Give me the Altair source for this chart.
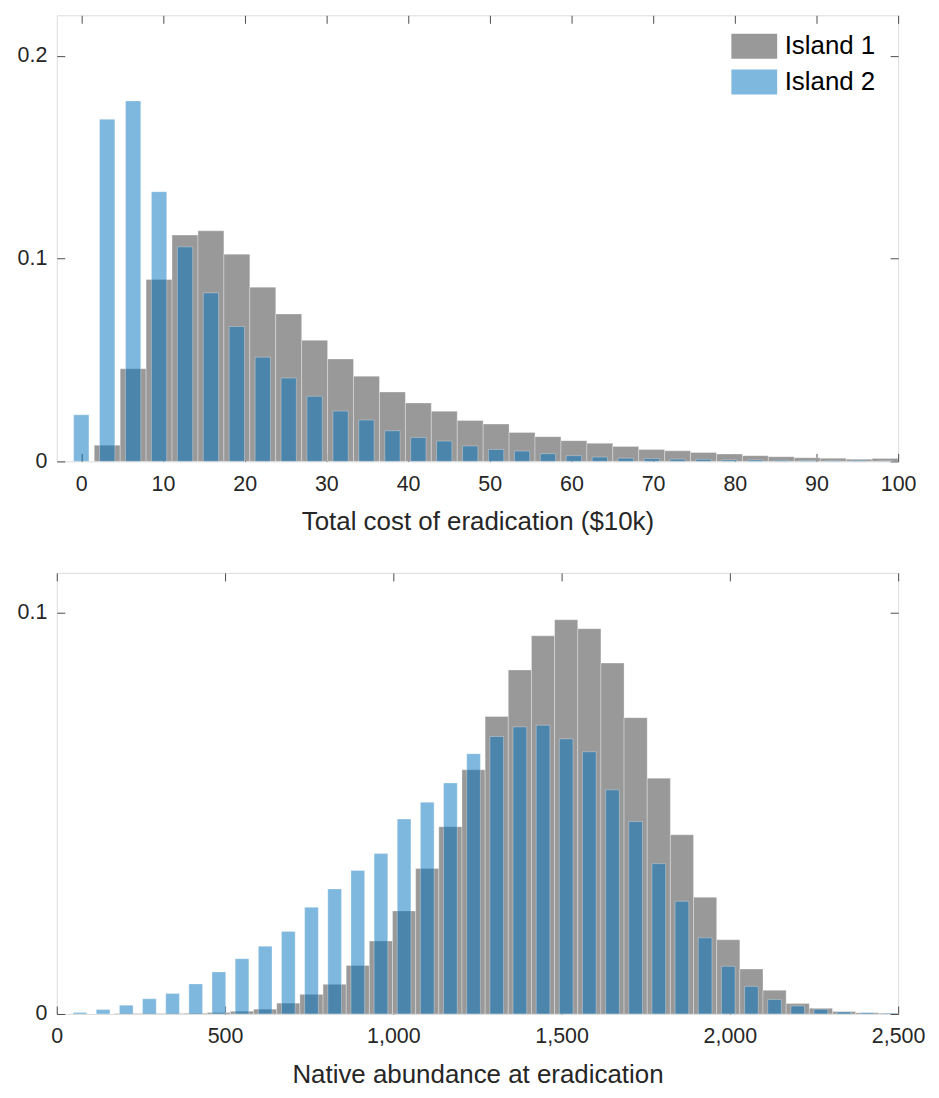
import altair as alt
import pandas as pd

# ---------------- data ----------------
islands = ["Island 1", "Island 2"]
island_colors = ["#999999", "rgba(0,114,189,0.5)"]

# Top panel: total cost of eradication ($10k); bins are numbered, bin centre = index * width
cost_bin_width = 3.174
cost_island1_bins = list(range(1, 32))
cost_island1 = [0.0080, 0.0457, 0.0897, 0.1116, 0.1137, 0.1022, 0.0859, 0.0727,
                0.0597, 0.0505, 0.0420, 0.0342, 0.0288, 0.0247, 0.0202, 0.0184,
                0.0143, 0.0122, 0.0102, 0.0089, 0.0074, 0.0059, 0.0052, 0.0044,
                0.0036, 0.0028, 0.0023, 0.0018, 0.0015, 0.0011, 0.0014]
cost_island2_bins = list(range(0, 32))
cost_island2 = [0.0230, 0.1687, 0.1778, 0.1330, 0.1058, 0.0831, 0.0665, 0.0514,
                0.0411, 0.0321, 0.0248, 0.0204, 0.0151, 0.0118, 0.0100, 0.0076,
                0.0059, 0.0051, 0.0038, 0.0028, 0.0021, 0.0016, 0.0014, 0.0011,
                0.0010, 0.0007, 0.0007, 0.0005, 0.0004, 0.0003, 0.0005, 0.0002]
cost_x_ticks = [0, 10, 20, 30, 40, 50, 60, 70, 80, 90, 100]
cost_y_ticks = [0, 0.1, 0.2]

# Bottom panel: native abundance at eradication
abund_bin_width = 68.8
abund_island1_bins = list(range(1, 37))
abund_island1 = [0.0000, 0.0000, 0.0001, 0.0001, 0.0001, 0.0002, 0.0004, 0.0007,
                 0.0012, 0.0027, 0.0049, 0.0074, 0.0121, 0.0182, 0.0257, 0.0363,
                 0.0467, 0.0609, 0.0742, 0.0858, 0.0943, 0.0983, 0.0961, 0.0875,
                 0.0739, 0.0588, 0.0447, 0.0291, 0.0185, 0.0112, 0.0059, 0.0026,
                 0.0014, 0.0006, 0.0003, 0.0002]
abund_island2_bins = list(range(1, 37))
abund_island2 = [0.0004, 0.0011, 0.0022, 0.0038, 0.0051, 0.0075, 0.0105, 0.0138,
                 0.0169, 0.0206, 0.0266, 0.0312, 0.0358, 0.0400, 0.0486, 0.0528,
                 0.0576, 0.0649, 0.0692, 0.0716, 0.0720, 0.0686, 0.0654, 0.0559,
                 0.0480, 0.0375, 0.0281, 0.0190, 0.0119, 0.0069, 0.0036, 0.0020,
                 0.0012, 0.0005, 0.0003, 0.0002]
abund_x_ticks = [0, 500, 1000, 1500, 2000, 2500]
abund_y_ticks = [0, 0.1]

# ---------------- styling ----------------
FONT = "Liberation Sans"
TEXT = "#262626"
TICK = "#4d4d4d"
BAR_FRACTION = {"Island 1": 1.0, "Island 2": 0.59}


def build_table(width, series):
    rows = []
    for name, bins, vals in series:
        half = 0.5 * width * BAR_FRACTION[name]
        for k, v in zip(bins, vals):
            c = k * width
            rows.append({"island": name, "x0": c - half, "x1": c + half, "value": v})
    return pd.DataFrame(rows)


cost_df = build_table(cost_bin_width, [("Island 1", cost_island1_bins, cost_island1),
                                        ("Island 2", cost_island2_bins, cost_island2)])
abund_df = build_table(abund_bin_width, [("Island 1", abund_island1_bins, abund_island1),
                                          ("Island 2", abund_island2_bins, abund_island2)])

TS = 8  # inward tick length
common_axis = dict(offset=-TS, tickSize=TS, domain=False, grid=False, tickColor=TICK,
                   tickWidth=1, labelFont=FONT, labelColor=TEXT, labelFontSize=21.5,
                   titleFont=FONT, titleColor=TEXT, titleFontSize=26, titleFontWeight="normal")


def panel(df, x_dom, y_dom, x_ticks, y_ticks, x_title, x_fmt, height, legend):
    xs = alt.Scale(domain=x_dom, nice=False, zero=False)
    ys = alt.Scale(domain=y_dom, nice=False)
    color = alt.Color("island:N", scale=alt.Scale(domain=islands, range=island_colors),
                      legend=legend)
    x_label = "format(datum.value, '%s')" % x_fmt
    y_label = "format(datum.value, '~g')"
    bottom_left = alt.Chart(df).transform_filter(alt.datum.island == "Island 1").mark_bar(
        clip=True, stroke="white", strokeWidth=0.6, strokeOpacity=0.5
    ).encode(
        x=alt.X("x0:Q", scale=xs,
                axis=alt.Axis(orient="bottom", values=x_ticks, labelExpr=x_label, title=x_title,
                              labelPadding=12, titlePadding=14, labelFlush=False, **common_axis)),
        x2="x1:Q",
        y=alt.Y("value:Q", scale=ys,
                axis=alt.Axis(orient="left", values=y_ticks, labelExpr=y_label, title=None,
                              labelPadding=10, **common_axis)),
        y2=alt.datum(0),
        color=color,
    )
    top_right = alt.Chart(df).transform_filter(alt.datum.island == "Island 2").mark_bar(
        clip=True, stroke="white", strokeWidth=0.6, strokeOpacity=0.5
    ).encode(
        x=alt.X("x0:Q", scale=xs,
                axis=alt.Axis(orient="top", values=x_ticks, labels=False, title=None, **common_axis)),
        x2="x1:Q",
        y=alt.Y("value:Q", scale=ys,
                axis=alt.Axis(orient="right", values=y_ticks, labels=False, title=None, **common_axis)),
        y2=alt.datum(0),
        color=color,
    )
    return alt.layer(bottom_left, top_right).resolve_axis(
        x="independent", y="independent"
    ).properties(width=845, height=height)


legend = alt.Legend(title=None, orient="none", legendX=677, legendY=18,
                    symbolType="M-1,-1H2.68V1H-1Z", symbolSize=625, symbolStrokeWidth=0,
                    labelFont=FONT, labelFontSize=26, labelColor="black", labelOffset=28,
                    rowPadding=10, padding=0)

top = panel(cost_df, [-3, 100], [0, 0.22], cost_x_ticks, cost_y_ticks,
            "Total cost of eradication ($10k)", "d", 448, legend)
bottom = panel(abund_df, [0, 2500], [0, 0.11], abund_x_ticks, abund_y_ticks,
               "Native abundance at eradication", ",", 443, None)

chart = alt.vconcat(top, bottom, spacing=37).resolve_scale(color="independent").properties(
    padding={"top": 4, "left": 8, "right": 5, "bottom": 0}
).configure_view(stroke="#5e5e5e", strokeWidth=1).configure(background="white")

chart.save("out.html", embed_options={"renderer": "svg", "actions": False})
